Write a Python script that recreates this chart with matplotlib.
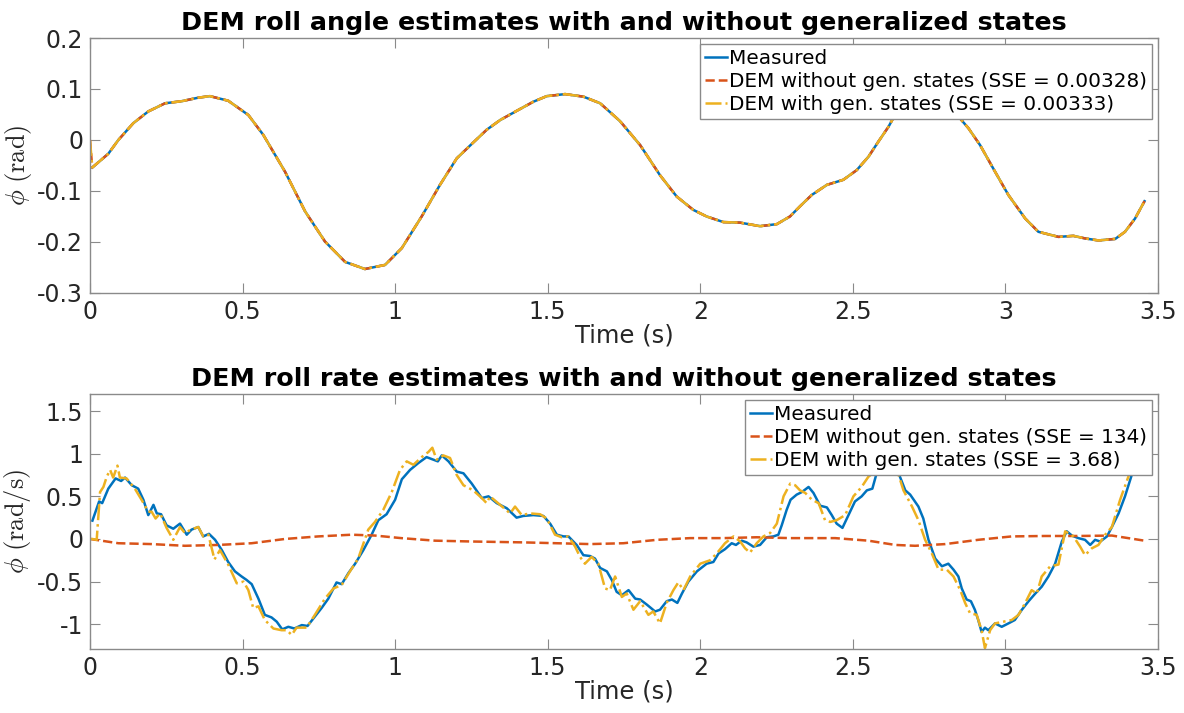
import numpy as np
import matplotlib
matplotlib.use('Agg')
import matplotlib.pyplot as plt
from matplotlib.ticker import FuncFormatter

plt.rcParams['font.family'] = ['DejaVu Sans']
plt.rcParams['mathtext.fontset'] = 'cm'
plt.rcParams['axes.unicode_minus'] = False

BLUE = '#0072BD'
ORANGE = '#D95319'
YELLOW = '#EDB120'

# roll angle (top) - all three estimates lie on the measured curve
t_ang = [0.0075, 0.06, 0.093, 0.142, 0.191, 0.246, 0.30, 0.355, 0.393, 0.453,
         0.519, 0.568, 0.639, 0.705, 0.770, 0.836, 0.901, 0.967, 1.022, 1.087,
         1.147, 1.202, 1.256, 1.30, 1.344, 1.398, 1.453, 1.497, 1.557, 1.617,
         1.672, 1.737, 1.803, 1.868, 1.923, 1.977, 2.021, 2.076, 2.13, 2.196,
         2.251, 2.294, 2.327, 2.365, 2.415, 2.469, 2.513, 2.551, 2.584, 2.617,
         2.638, 2.67, 2.71, 2.75, 2.79, 2.82, 2.846, 2.879, 2.917, 2.966,
         3.010, 3.065, 3.108, 3.174, 3.223, 3.261, 3.305, 3.360, 3.392, 3.425,
         3.456]
phi_meas = [-0.054, -0.027, 0.0, 0.033, 0.056, 0.072, 0.076, 0.083, 0.086, 0.077,
            0.049, 0.010, -0.062, -0.140, -0.199, -0.239, -0.253, -0.245, -0.212, -0.150,
            -0.088, -0.036, -0.005, 0.020, 0.039, 0.057, 0.075, 0.086, 0.090, 0.085,
            0.072, 0.037, -0.010, -0.069, -0.111, -0.137, -0.150, -0.161, -0.162, -0.169,
            -0.165, -0.150, -0.130, -0.108, -0.088, -0.078, -0.059, -0.033, -0.003, 0.026,
            0.049, 0.080, 0.097, 0.098, 0.088, 0.068, 0.046, 0.023, -0.010, -0.062,
            -0.108, -0.154, -0.180, -0.190, -0.188, -0.193, -0.197, -0.194, -0.180, -0.154,
            -0.120]
# estimates start from zero before jumping onto the measurement
t_ang_est = [0.0] + t_ang
phi_nogen = [0.0] + phi_meas
phi_gen = [0.0] + phi_meas

# roll rate (bottom)
t_rate_meas = [0.008, 0.030, 0.040, 0.060, 0.084, 0.102, 0.115, 0.137, 0.158, 0.175,
               0.191, 0.208, 0.219, 0.233, 0.251, 0.273, 0.295, 0.317, 0.333, 0.355,
               0.371, 0.390, 0.410, 0.432, 0.453, 0.475, 0.497, 0.513, 0.530, 0.552,
               0.573, 0.595, 0.612, 0.630, 0.650, 0.670, 0.694, 0.713, 0.737, 0.759,
               0.781, 0.808, 0.825, 0.847, 0.869, 0.896, 0.923, 0.945, 0.972, 1.000,
               1.022, 1.049, 1.076, 1.103, 1.125, 1.140, 1.153, 1.175, 1.202, 1.224,
               1.251, 1.284, 1.306, 1.333, 1.366, 1.398, 1.420, 1.453, 1.486, 1.508,
               1.530, 1.552, 1.568, 1.595, 1.617, 1.639, 1.655, 1.672, 1.694, 1.710,
               1.726, 1.743, 1.765, 1.787, 1.803, 1.825, 1.852, 1.868, 1.890, 1.907,
               1.925, 1.940, 1.961, 1.989, 2.021, 2.043, 2.060, 2.081, 2.103, 2.117,
               2.136, 2.152, 2.174, 2.196, 2.218, 2.240, 2.256, 2.267, 2.283, 2.296,
               2.316, 2.333, 2.355, 2.371, 2.393, 2.415, 2.431, 2.447, 2.466, 2.486,
               2.507, 2.529, 2.546, 2.564, 2.578, 2.60, 2.62, 2.65, 2.672, 2.688,
               2.715, 2.731, 2.748, 2.770, 2.792, 2.813, 2.830, 2.846, 2.857, 2.873,
               2.887, 2.900, 2.911, 2.922, 2.933, 2.944, 2.966, 2.988, 3.010, 3.031,
               3.054, 3.076, 3.098, 3.119, 3.141, 3.163, 3.185, 3.201, 3.218, 3.239,
               3.261, 3.278, 3.294, 3.311, 3.333, 3.349, 3.371, 3.392, 3.414, 3.435,
               3.456]
rate_meas = [0.215, 0.44, 0.42, 0.59, 0.71, 0.68, 0.72, 0.63, 0.59, 0.46,
             0.28, 0.40, 0.30, 0.29, 0.16, 0.12, 0.18, 0.05, 0.11, 0.14,
             0.03, 0.06, -0.01, -0.13, -0.27, -0.38, -0.44, -0.48, -0.53, -0.70,
             -0.89, -0.92, -0.97, -1.06, -1.03, -1.05, -1.01, -1.02, -0.91, -0.81,
             -0.70, -0.51, -0.53, -0.40, -0.29, -0.13, 0.05, 0.22, 0.29, 0.46,
             0.70, 0.81, 0.89, 0.96, 0.93, 0.91, 0.98, 0.91, 0.79, 0.77,
             0.65, 0.48, 0.50, 0.42, 0.36, 0.25, 0.27, 0.28, 0.27, 0.18,
             0.05, 0.03, 0.03, -0.07, -0.19, -0.20, -0.23, -0.34, -0.38, -0.48,
             -0.62, -0.66, -0.60, -0.70, -0.71, -0.77, -0.85, -0.83, -0.73, -0.71,
             -0.75, -0.64, -0.50, -0.38, -0.29, -0.27, -0.17, -0.12, -0.05, -0.07,
             -0.02, -0.04, -0.09, -0.07, 0.02, 0.03, 0.05, 0.16, 0.34, 0.46,
             0.52, 0.55, 0.61, 0.54, 0.39, 0.37, 0.28, 0.18, 0.13, 0.28,
             0.44, 0.50, 0.57, 0.59, 0.77, 0.95, 1.0, 0.77, 0.57, 0.52,
             0.38, 0.24, -0.01, -0.23, -0.32, -0.29, -0.36, -0.44, -0.58, -0.71,
             -0.73, -0.83, -0.95, -1.09, -1.04, -1.07, -0.99, -1.03, -0.99, -0.95,
             -0.83, -0.73, -0.64, -0.56, -0.44, -0.29, -0.03, 0.09, 0.04, 0.01,
             -0.01, -0.07, -0.01, -0.03, 0.03, 0.14, 0.30, 0.50, 0.75, 0.95,
             1.15]

t_rate_gen = [0.0, 0.008, 0.022, 0.033, 0.044, 0.055, 0.066, 0.076, 0.090, 0.098,
              0.120, 0.147, 0.169, 0.191, 0.202, 0.215, 0.230, 0.251, 0.273, 0.295,
              0.311, 0.331, 0.355, 0.371, 0.388, 0.408, 0.426, 0.453, 0.481, 0.503,
              0.519, 0.535, 0.552, 0.573, 0.601, 0.628, 0.645, 0.661, 0.677, 0.710,
              0.737, 0.770, 0.798, 0.825, 0.852, 0.879, 0.912, 0.934, 0.961, 0.989,
              1.016, 1.038, 1.060, 1.087, 1.109, 1.122, 1.136, 1.158, 1.180, 1.202,
              1.224, 1.256, 1.284, 1.300, 1.311, 1.344, 1.377, 1.393, 1.415, 1.442,
              1.475, 1.497, 1.524, 1.546, 1.568, 1.590, 1.606, 1.622, 1.644, 1.666,
              1.688, 1.704, 1.721, 1.743, 1.759, 1.781, 1.803, 1.830, 1.846, 1.868,
              1.890, 1.912, 1.928, 1.945, 1.967, 2.000, 2.032, 2.054, 2.081, 2.109,
              2.131, 2.147, 2.163, 2.185, 2.207, 2.229, 2.251, 2.273, 2.295, 2.311,
              2.327, 2.344, 2.366, 2.388, 2.409, 2.426, 2.447, 2.475, 2.502, 2.529,
              2.551, 2.573, 2.60, 2.625, 2.650, 2.666, 2.694, 2.715, 2.737, 2.759,
              2.781, 2.808, 2.830, 2.852, 2.868, 2.884, 2.906, 2.922, 2.933, 2.950,
              2.966, 2.994, 3.021, 3.043, 3.065, 3.086, 3.103, 3.119, 3.147, 3.174,
              3.196, 3.223, 3.245, 3.261, 3.283, 3.305, 3.327, 3.349, 3.376, 3.403,
              3.430, 3.456]
rate_gen = [0.0, 0.0, -0.01, 0.55, 0.61, 0.73, 0.81, 0.72, 0.86, 0.72,
            0.71, 0.59, 0.46, 0.32, 0.32, 0.24, 0.30, 0.13, -0.01, 0.14,
            0.07, 0.11, 0.14, 0.03, 0.05, -0.24, -0.13, -0.30, -0.52, -0.50,
            -0.60, -0.81, -0.79, -0.95, -1.05, -1.07, -1.07, -1.125, -1.04, -1.04,
            -0.89, -0.70, -0.58, -0.54, -0.38, -0.23, 0.11, 0.20, 0.34, 0.55,
            0.81, 0.91, 0.87, 0.96, 1.02, 1.07, 0.93, 0.98, 0.95, 0.75,
            0.63, 0.57, 0.48, 0.42, 0.50, 0.40, 0.30, 0.38, 0.28, 0.30,
            0.29, 0.24, 0.05, 0.02, 0.03, -0.09, -0.21, -0.29, -0.21, -0.29,
            -0.58, -0.60, -0.44, -0.68, -0.64, -0.83, -0.73, -0.89, -0.85, -0.99,
            -0.75, -0.60, -0.51, -0.60, -0.44, -0.29, -0.25, -0.17, -0.05, 0.03,
            -0.03, -0.11, -0.16, -0.05, 0.03, 0.07, 0.18, 0.50, 0.65, 0.63,
            0.57, 0.54, 0.46, 0.42, 0.22, 0.20, 0.22, 0.28, 0.50, 0.61,
            0.73, 0.79, 1.0, 1.05, 0.75, 0.57, 0.38, 0.22, -0.01, -0.17,
            -0.36, -0.36, -0.44, -0.60, -0.75, -0.87, -0.89, -1.07, -1.28, -1.07,
            -0.99, -0.97, -0.95, -0.89, -0.75, -0.60, -0.64, -0.44, -0.32, -0.30,
            0.09, 0.03, -0.09, -0.19, -0.11, -0.07, 0.05, 0.14, 0.46, 0.73,
            0.95, 1.15]

t_rate_nogen = [0.0, 0.093, 0.202, 0.311, 0.421, 0.530, 0.639, 0.748, 0.858, 0.934,
                1.02, 1.131, 1.256, 1.42, 1.53, 1.639, 1.748, 1.858, 1.967, 2.076,
                2.185, 2.294, 2.442, 2.551, 2.639, 2.704, 2.803, 2.911, 3.021, 3.130,
                3.239, 3.349, 3.456]
rate_nogen = [0.0, -0.05, -0.06, -0.08, -0.07, -0.05, 0.0, 0.03, 0.05, 0.04,
              0.01, -0.02, -0.03, -0.04, -0.05, -0.06, -0.05, -0.01, 0.01, 0.01,
              0.02, 0.01, 0.01, -0.02, -0.07, -0.08, -0.06, -0.01, 0.03, 0.035,
              0.035, 0.04, -0.02]

labels_top = ['Measured', 'DEM without gen. states (SSE = 0.00328)',
              'DEM with gen. states (SSE = 0.00333)']
labels_bot = ['Measured', 'DEM without gen. states (SSE = 134)',
              'DEM with gen. states (SSE = 3.68)']

fig = plt.figure(figsize=(11.84, 7.13), dpi=100)
ax1 = fig.add_axes([0.0760, 0.5891, 0.9020, 0.3576])
ax2 = fig.add_axes([0.0760, 0.0898, 0.9020, 0.3576])

fmt = FuncFormatter(lambda v, p: '%g' % round(v, 6))
GRAY = '#262626'


def style(ax):
    for s in ax.spines.values():
        s.set_color('#8a8a8a')
        s.set_linewidth(1.0)
    ax.tick_params(direction='in', length=7, width=0.8, color='#8a8a8a',
                   labelcolor=GRAY, labelsize=17, top=True, right=True, pad=5)
    ax.xaxis.set_major_formatter(fmt)
    ax.yaxis.set_major_formatter(fmt)
    ax.set_xlim(0, 3.5)
    ax.set_xticks(np.arange(0, 3.51, 0.5))
    ax.set_xlabel('Time (s)', fontsize=17.5, color=GRAY, labelpad=0)


ax1.plot(t_ang, phi_meas, color=BLUE, lw=1.8, label=labels_top[0])
ax1.plot(t_ang_est, phi_nogen, color=ORANGE, lw=1.8, ls='--', label=labels_top[1])
ax1.plot(t_ang_est, phi_gen, color=YELLOW, lw=1.8, ls='-.', label=labels_top[2])
style(ax1)
ax1.set_ylim(-0.3, 0.2)
ax1.set_yticks(np.arange(-0.3, 0.21, 0.1))
ax1.set_ylabel(r'$\phi\ \mathrm{(rad)}$', fontsize=19, color=GRAY, labelpad=2)
ax1.set_title('DEM roll angle estimates with and without generalized states',
              fontsize=18.3, fontweight='bold', pad=6)

ax2.plot(t_rate_meas, rate_meas, color=BLUE, lw=1.8, label=labels_bot[0])
ax2.plot(t_rate_nogen, rate_nogen, color=ORANGE, lw=1.8, ls='--', label=labels_bot[1])
ax2.plot(t_rate_gen, rate_gen, color=YELLOW, lw=1.8, ls='-.', label=labels_bot[2])
style(ax2)
ax2.set_ylim(-1.29, 1.7)
ax2.set_yticks([-1, -0.5, 0, 0.5, 1, 1.5])
ax2.set_ylabel(r'$\dot{\phi}\ \mathrm{(rad/s)}$', fontsize=19, color=GRAY, labelpad=2)
ax2.set_title('DEM roll rate estimates with and without generalized states',
              fontsize=18.3, fontweight='bold', pad=6)

for ax in (ax1, ax2):
    leg = ax.legend(loc='upper right', fontsize=14.4, handlelength=1.1,
                    handletextpad=0.1, labelspacing=0.2, borderpad=0.25,
                    borderaxespad=0.3, fancybox=False, framealpha=1)
    leg.get_frame().set_edgecolor('#8a8a8a')
    leg.get_frame().set_linewidth(1.0)

fig.savefig('out.png', dpi=100)
